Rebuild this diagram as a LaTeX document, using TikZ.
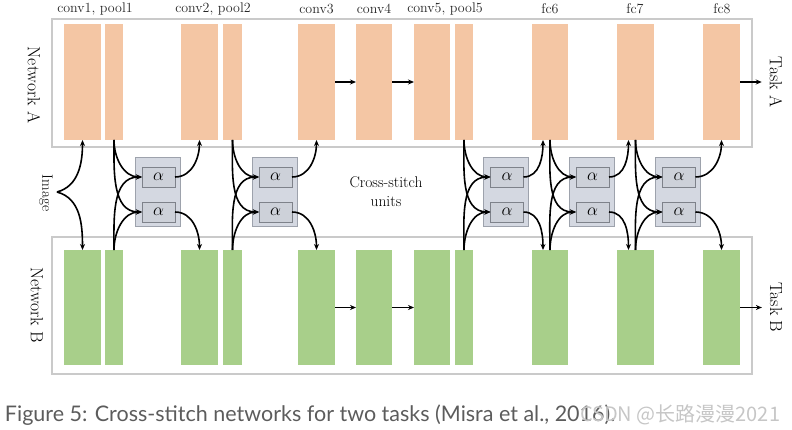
\documentclass[tikz,border=0pt]{standalone}
\usepackage{fontspec}
\usepackage{tikz}
\usetikzlibrary{arrows.meta,positioning,calc}
\newfontfamily\capfont{Lato}
\newfontfamily\cjkfont{Noto Sans CJK SC}
\definecolor{layerorange}{HTML}{F4C6A4}
\definecolor{layergreen}{HTML}{A8CF8A}
\definecolor{unitgray}{HTML}{D4D8E1}
\definecolor{unitedge}{HTML}{9DA2AC}
\definecolor{frameedge}{HTML}{CACACA}
\definecolor{captiongray}{HTML}{5C5C5C}

\begin{document}
\begin{tikzpicture}[x=1pt, y=1pt,
  every node/.style={inner sep=0pt, outer sep=0pt},
  layerA/.style={fill=layerorange, minimum height=116pt},
  layerB/.style={fill=layergreen, minimum height=115pt},
  frame/.style={draw=frameedge, line width=1.2pt},
  csunit/.style={fill=unitgray, draw=unitedge, line width=0.8pt,
    minimum width=45pt, minimum height=69pt},
  alphabox/.style={fill=unitgray!92!gray, draw=unitedge!80!black, line width=0.8pt,
    minimum width=33pt, minimum height=20pt, font=\fontsize{16}{16}\selectfont},
  sidelabel/.style={rotate=-90, font=\fontsize{17.5}{18}\selectfont},
  toplabel/.style={font=\fontsize{14}{14}\selectfont, text=black!85},
  flow/.style={line width=1.6pt, -{Stealth[length=6pt,width=5pt]}},
]
  \useasboundingbox (0,0) rectangle (792,-430);
  % Frames round the two networks
  \draw[frame] (52,-19) rectangle (752,-147);
  \draw[frame] (52,-237) rectangle (752,-374);
  % Layers of network A (orange) and network B (green)
  \foreach \n/\cx/\w in {c1/82.5/37, p1/114/18, c2/199.5/37, p2/232.5/19,
      c3/316.5/37, c4/374/36, c5/432/36, p5/464/18, f6/550/36,
      f7/635.5/37, f8/721.5/37}{
    \node[layerA, minimum width=\w pt] (A\n) at (\cx,-82) {};
    \node[layerB, minimum width=\w pt] (B\n) at (\cx,-307.5) {};
  }
  % Layer names on top
  \node[toplabel] (lbl-c1) at (95,-9) {conv1, pool1};
  \node[toplabel] (lbl-c2) at (213,-9) {conv2, pool2};
  \node[toplabel] (lbl-c3) at (316.5,-9) {conv3};
  \node[toplabel] (lbl-c4) at (374,-9) {conv4};
  \node[toplabel] (lbl-c5) at (445,-9) {conv5, pool5};
  \node[toplabel] (lbl-f6) at (550,-9) {fc6};
  \node[toplabel] (lbl-f7) at (635,-9) {fc7};
  \node[toplabel] (lbl-f8) at (722,-9) {fc8};
  % Side labels
  \node[sidelabel] (netA) at (34,-85) {Network A};
  \node[sidelabel] (netB) at (37,-305) {Network B};
  \node[sidelabel] (taskA) at (776,-82) {Task A};
  \node[sidelabel] (taskB) at (776,-307.5) {Task B};
  \node[sidelabel, font=\fontsize{15}{15}\selectfont] (image) at (46,-193) {Image};
  % Plain forward connections
  \draw[flow] (Ac3) -- (Ac4);
  \draw[flow] (Ac4) -- (Ac5);
  \draw[flow] (Bc3) -- (Bc4);
  \draw[flow] (Bc4) -- (Bc5);
  \draw[flow, shorten >=8pt] (Af8) -- (taskA);
  \draw[flow, shorten >=8pt] (Bf8) -- (taskB);
  % Image fed to both networks
  \coordinate (imgtip) at (57,-192);
  \draw[flow] (imgtip) to[out=15,in=-90] (Ac1.south);
  \draw[flow] (imgtip) to[out=-15,in=90] (Bc1.north);
  % Cross-stitch units
  \foreach \u/\cx in {1/157.5, 2/274.5, 3/506, 4/591.5, 5/678}{
    \node[csunit] (cs\u) at (\cx,-191.5) {};
    \node[alphabox] (cs\u-t) at (\cx+1,-177) {$\alpha$};
    \node[alphabox] (cs\u-b) at (\cx+1,-212) {$\alpha$};
  }
  % Wiring: source layer -> both alphas -> next layer
  \foreach \u/\s/\t/\dx in {1/p1/c2/0, 2/p2/c3/0, 3/p5/f6/-7, 4/f6/f7/-7, 5/f7/f8/0}{
    \draw[flow] (A\s.south) to[out=-90,in=180] (cs\u-t.west);
    \draw[flow] (A\s.south) to[out=-90,in=180] (cs\u-b.west);
    \draw[flow] (B\s.north) to[out=90,in=180] (cs\u-t.west);
    \draw[flow] (B\s.north) to[out=90,in=180] (cs\u-b.west);
    \draw[flow] (cs\u-t.east) to[out=0,in=-90] ([xshift=\dx pt]A\t.south);
    \draw[flow] (cs\u-b.east) to[out=0,in=90] ([xshift=\dx pt]B\t.north);
  }
  \node[font=\fontsize{15.5}{19}\selectfont, align=center] (cslabel) at (386,-192)
    {Cross-stitch\\units};
  % Caption and watermark
  \node[anchor=base west, font=\capfont\fontsize{21.5}{21.5}\selectfont, text=captiongray]
    (caption) at (5,-421) {Figure 5: Cross-stitch networks for two tasks (Misra et al., 2016).};
  \node[anchor=base west, font=\cjkfont\fontsize{20}{20}\selectfont, text=gray!45]
    (mark) at (580,-421) {CSDN @长路漫漫2021};
\end{tikzpicture}
\end{document}
